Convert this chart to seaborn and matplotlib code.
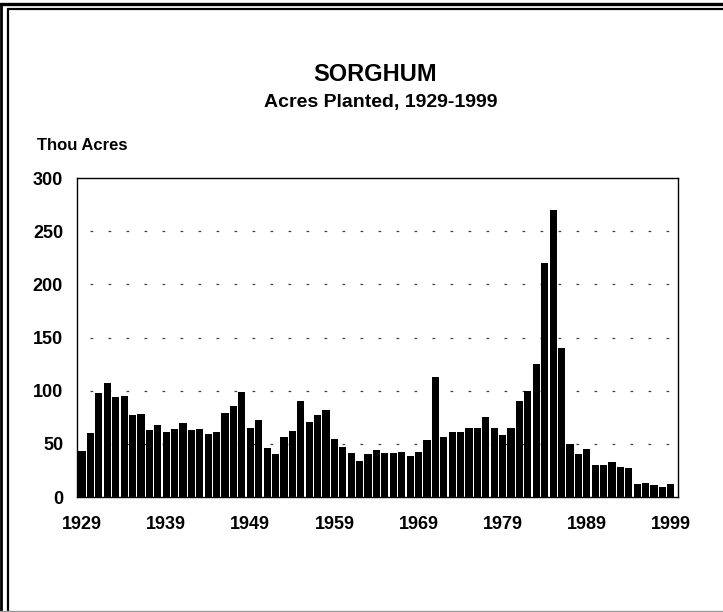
import numpy as np
import pandas as pd
import seaborn as sns
import matplotlib.pyplot as plt
from matplotlib.lines import Line2D

# valores (miles de acres sembrados)
years = list(range(1929, 2000))
acres = [43, 60, 98, 107, 94, 95, 77, 78, 63, 68,
         61, 64, 70, 63, 64, 59, 61, 79, 86, 99,
         65, 72, 46, 40, 56, 62, 90, 71, 77, 82,
         55, 47, 41, 34, 40, 44, 41, 41, 42, 39,
         42, 54, 113, 56, 61, 61, 65, 65, 75, 65,
         58, 65, 90, 100, 125, 220, 270, 140, 50, 40,
         45, 30, 30, 33, 28, 27, 12, 13, 11, 9, 12]
yticks = [0, 50, 100, 150, 200, 250, 300]

df = pd.DataFrame({'year': [str(y) for y in years], 'acres': acres})

sns.set_style('white')
plt.rcParams['font.family'] = ['Liberation Sans', 'DejaVu Sans']
plt.rcParams['font.weight'] = 'bold'
plt.rcParams['text.color'] = 'black'
plt.rcParams['xtick.color'] = 'black'
plt.rcParams['ytick.color'] = 'black'

fig = plt.figure(figsize=(7.23, 6.12), dpi=100)
ax = fig.add_axes([0.1065, 0.1879, 0.8313, 0.5212])

sns.barplot(data=df, x='year', y='acres', color='black', saturation=1,
            width=0.85, linewidth=0, ax=ax)

ax.set_ylim(0, 300)
ax.set_xlim(-0.6, 70.85)
ax.set_yticks(yticks)
ax.set_yticklabels([str(t) for t in yticks], fontsize=13, fontweight='bold')
ax.set_xticks(range(len(years)))
ax.set_xticklabels([str(y) if (y - 1929) % 10 == 0 else '' for y in years],
                   fontsize=13, fontweight='bold')
ax.tick_params(axis='y', length=0, pad=10)
ax.tick_params(axis='x', length=6, width=0.7, color='#333333', pad=8, direction='out')
ax.set_xlabel('')
ax.set_ylabel('')

for g in yticks[1:-1]:
    ax.axhline(g, color='#444444', linewidth=0.9, linestyle=(4, (2.2, 12.2)), zorder=0)

for s in ax.spines.values():
    s.set_visible(True)
    s.set_color('black')
    s.set_linewidth(1.0)

fig.text(0.519, 0.879, 'SORGHUM', ha='center', va='center', fontsize=17, fontweight='bold')
fig.text(0.527, 0.833, 'Acres Planted, 1929-1999', ha='center', va='center',
         fontsize=14, fontweight='bold')
fig.text(0.051, 0.763, 'Thou Acres', ha='left', va='center', fontsize=12, fontweight='bold')

# marco doble alrededor de la figura
fig.add_artist(Line2D([0, 1], [0.9935, 0.9935], color='black', linewidth=2.4))
fig.add_artist(Line2D([0.0104, 1], [0.9845, 0.9845], color='black', linewidth=1.6))
fig.add_artist(Line2D([0.002, 0.002], [0, 0.9935], color='black', linewidth=2.0))
fig.add_artist(Line2D([0.0104, 0.0104], [0, 0.9845], color='black', linewidth=1.6))
fig.add_artist(Line2D([0, 1], [0.002, 0.002], color='#999999', linewidth=1.0))

fig.savefig('out.png', dpi=100)
